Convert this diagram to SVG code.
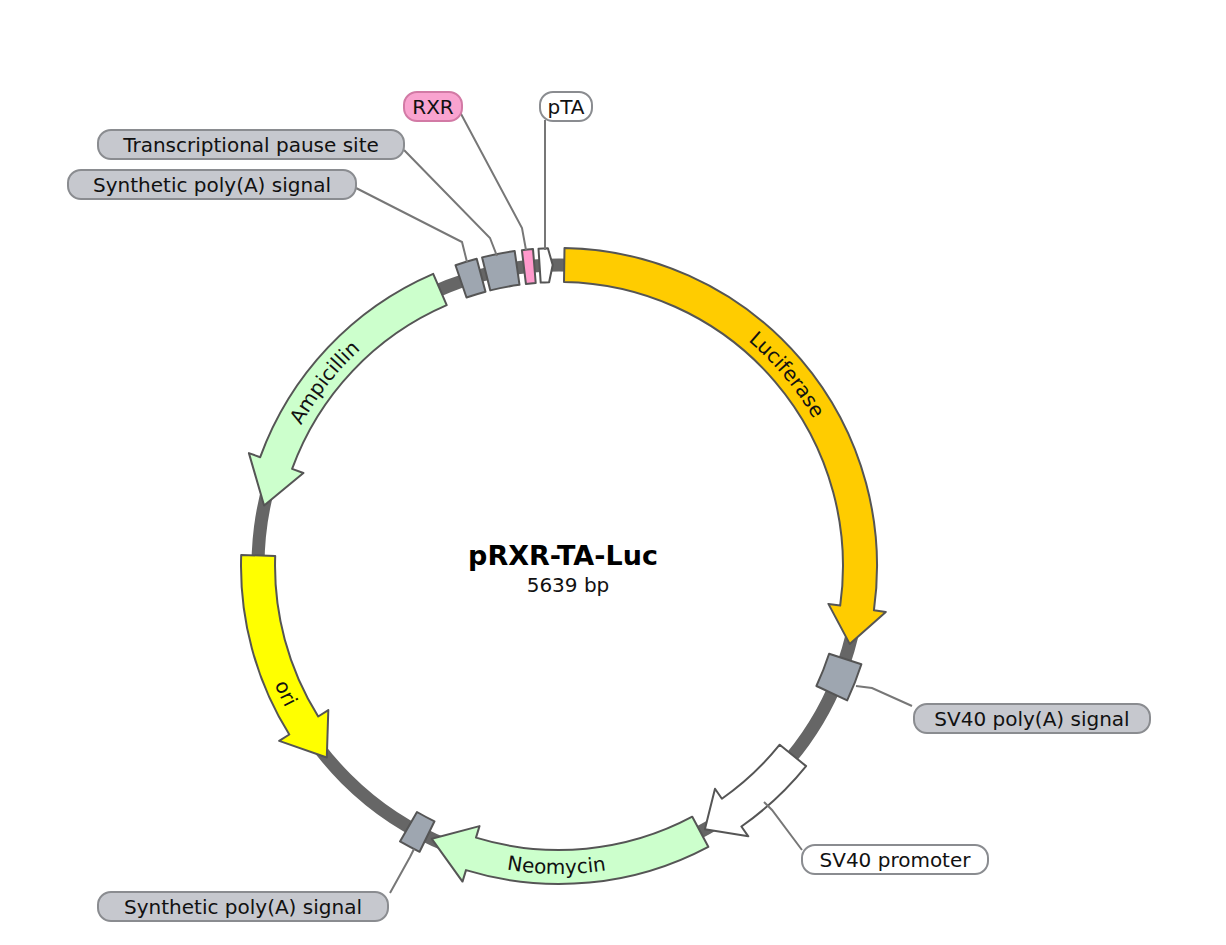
<svg xmlns="http://www.w3.org/2000/svg" width="1226" height="945" viewBox="0 0 1226 945">
<style>
.feat{stroke:#555;stroke-width:2;stroke-linejoin:round}
.box{fill:#9ea6b0}
.lbl{fill:#c6c8ce;stroke:#8a8c90;stroke-width:2}
.lblw{fill:#fff;stroke:#8a8c90;stroke-width:2}
.t{font-family:"DejaVu Sans",Verdana,sans-serif;font-size:20px;fill:#111}
.lead{fill:none;stroke:#777;stroke-width:2}
</style>
<defs>
<path id="pLuc" d="M559 272 A294 294 0 0 1 848.5 617"/>
<path id="pAmp" d="M269.5 516.9 A294 294 0 0 1 441.6 296.5"/>
<path id="pOri" d="M251 566 A308 308 0 0 0 361 802"/>
<path id="pNeo" d="M469 860.6 A308 308 0 0 0 644 862"/>
</defs>
<rect width="1226" height="945" fill="#fff"/>
<g id="backbone"><circle cx="559" cy="566" r="301" fill="none" stroke="#666" stroke-width="13"/></g>
<g id="features">
<g id="luciferase"><path class="feat" fill="#ffcc00" d="M564.5 248 A318 318 0 0 1 873.9 610.3 L885.8 611.9 L849.7 643.9 L828.4 603.9 L840.2 605.5 A284 284 0 0 0 564 282 Z"/><text class="t"><textPath href="#pLuc" startOffset="50%" text-anchor="middle">Luciferase</textPath></text></g>
<g id="sv40pa"><path class="feat box" d="M861.4 664.3 A318 318 0 0 1 847.2 700.4 L816.4 686 A284 284 0 0 0 829.1 653.8 Z"/></g>
<g id="sv40p"><path class="feat" fill="#fff" d="M806.1 766.1 A318 318 0 0 1 741.4 826.5 L748.3 836.3 L704.9 829.3 L715 788.8 L721.9 798.7 A284 284 0 0 0 779.7 744.7 Z"/></g>
<g id="neomycin"><path class="feat" fill="#ccffcc" d="M708.3 846.8 A318 318 0 0 1 466 870.1 L462.5 881.6 L431.8 838.8 L479.5 826.1 L476 837.6 A284 284 0 0 0 692.3 816.7 Z"/><text class="t"><textPath href="#pNeo" startOffset="50%" text-anchor="middle">Neomycin</textPath></text></g>
<g id="synpa2"><path class="feat box" d="M419.6 851.8 A318 318 0 0 1 400 841.4 L417 812 A284 284 0 0 0 434.5 821.3 Z"/></g>
<g id="ori"><path class="feat" fill="#ffff00" d="M241.2 554.9 A318 318 0 0 0 289.3 734.5 L279.2 740.9 L326.8 757.5 L328.3 710.1 L318.2 716.5 A284 284 0 0 1 275.2 556.1 Z"/><text class="t"><textPath href="#pOri" startOffset="50%" text-anchor="middle">ori</textPath></text></g>
<g id="ampicillin"><path class="feat" fill="#ccffcc" d="M433.2 273.9 A318 318 0 0 0 260.2 457.2 L248.9 453.1 L264.1 505.5 L303.4 473 L292.1 468.9 A284 284 0 0 1 446.7 305.2 Z"/><text class="t"><textPath href="#pAmp" startOffset="50%" text-anchor="middle">Ampicillin</textPath></text></g>
<g id="synpa1"><path class="feat box" d="M455.5 265.3 A318 318 0 0 1 476.7 258.8 L485.5 291.7 A284 284 0 0 0 466.5 297.5 Z"/></g>
<g id="pause"><path class="feat box" d="M482.1 257.4 A318 318 0 0 1 514.7 251.1 L519.5 284.8 A284 284 0 0 0 490.3 290.4 Z"/></g>
<g id="rxr"><path class="feat" fill="#ff99cc" d="M521.9 250.2 A318 318 0 0 1 533 249.1 L535.7 283 A284 284 0 0 0 525.9 283.9 Z"/></g>
<g id="pta"><path class="feat" fill="#fff" d="M538.5 248.7 A318 318 0 0 1 547.9 248.2 L552.7 265 L549.1 282.2 A284 284 0 0 0 540.7 282.6 Z"/></g>
</g>
<g id="connectors">
<polyline class="lead" points="356,188 462,242 467,262"/>
<polyline class="lead" points="404,150 490,238 497,256"/>
<polyline class="lead" points="460,112 522,228 526,250"/>
<polyline class="lead" points="545,120 545,250"/>
<polyline class="lead" points="912,706 872,688 856,686"/>
<polyline class="lead" points="802,850 772,810 764,802"/>
<polyline class="lead" points="390,893 410,857 414,849"/>
</g>
<g id="labels">
<g id="l-pause"><rect class="lbl" x="98" y="130" width="306" height="29" rx="13"/><text class="t" x="251" y="152" text-anchor="middle">Transcriptional pause site</text></g>
<g id="l-synpa1"><rect class="lbl" x="68" y="170" width="288" height="29" rx="13"/><text class="t" x="212" y="192" text-anchor="middle">Synthetic poly(A) signal</text></g>
<g id="l-rxr"><rect fill="#f9a3cf" stroke="#d27aa5" stroke-width="2" x="404" y="92" width="58" height="29" rx="13"/><text class="t" x="433" y="114" text-anchor="middle">RXR</text></g>
<g id="l-pta"><rect class="lblw" x="540" y="92" width="52" height="29" rx="13"/><text class="t" x="566" y="114" text-anchor="middle">pTA</text></g>
<g id="l-sv40pa"><rect class="lbl" x="914" y="704" width="236" height="29" rx="13"/><text class="t" x="1032" y="726" text-anchor="middle">SV40 poly(A) signal</text></g>
<g id="l-sv40p"><rect class="lblw" x="802" y="845" width="186" height="29" rx="13"/><text class="t" x="895" y="867" text-anchor="middle">SV40 promoter</text></g>
<g id="l-synpa2"><rect class="lbl" x="98" y="892" width="290" height="29" rx="13"/><text class="t" x="243" y="914" text-anchor="middle">Synthetic poly(A) signal</text></g>
</g>
<g id="title">
<text x="563" y="565" text-anchor="middle" style="font-family:'DejaVu Sans',sans-serif;font-size:27px;font-weight:bold;fill:#000">pRXR-TA-Luc</text>
<text x="568" y="592" text-anchor="middle" style="font-family:'DejaVu Sans',sans-serif;font-size:20px;fill:#111">5639 bp</text>
</g>
</svg>
